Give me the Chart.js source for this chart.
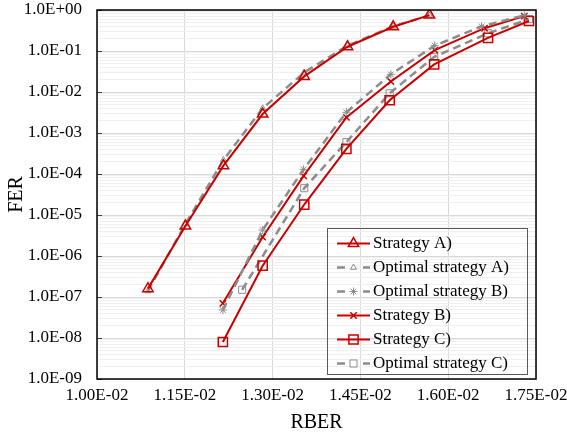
<!DOCTYPE html>
<html>
<head>
<meta charset="utf-8">
<script src="https://cdn.jsdelivr.net/npm/chart.js@4.4.1/dist/chart.umd.min.js"></script>
<style>
  html, body { margin: 0; padding: 0; background: #ffffff; }
  #wrap { width: 567px; height: 436px; position: relative; }
</style>
</head>
<body>
<div id="wrap"><canvas id="c" width="567" height="436"></canvas></div>
<script>
// ---------------- data ----------------
const rberStrategyA = [0.01087, 0.01151, 0.01216, 0.01283, 0.01354, 0.01428, 0.01506, 0.01568];
const ferStrategyA  = [1.6e-7, 5.4e-6, 1.6e-4, 2.9e-3, 2.4e-2, 0.127, 0.39, 0.75];

const rberOptimalA  = [0.01087, 0.01151, 0.01216, 0.01283, 0.01354, 0.01428, 0.01506, 0.01568];
const ferOptimalA   = [1.4e-7, 6.0e-6, 2.2e-4, 4.0e-3, 3.0e-2, 0.135, 0.40, 0.74];

const rberOptimalB  = [0.01215, 0.01283, 0.01353, 0.01426, 0.01502, 0.01577, 0.01657, 0.01730];
const ferOptimalB   = [4.8e-8, 4.3e-6, 1.3e-4, 3.2e-3, 2.7e-2, 0.135, 0.40, 0.74];

const rberStrategyB = [0.01215, 0.01283, 0.01353, 0.01426, 0.01502, 0.01577, 0.01662, 0.01730];
const ferStrategyB  = [7.0e-8, 2.9e-6, 9.0e-5, 2.4e-3, 1.8e-2, 0.105, 0.36, 0.71];

const rberStrategyC = [0.01215, 0.01283, 0.01354, 0.01426, 0.01500, 0.01576, 0.01668, 0.01738];
const ferStrategyC  = [8.0e-9, 5.8e-7, 1.8e-5, 4.1e-4, 6.3e-3, 4.7e-2, 0.21, 0.54];

const rberOptimalC  = [0.01248, 0.01354, 0.01426, 0.01500, 0.01576, 0.01668, 0.01738];
const ferOptimalC   = [1.5e-7, 4.5e-5, 6.0e-4, 9.3e-3, 7.2e-2, 0.27, 0.60];

const seriesNames = ['Strategy A)', 'Optimal strategy A)', 'Optimal strategy B)', 'Strategy B)', 'Strategy C)', 'Optimal strategy C)'];

const xTickValues = [0.0100, 0.0115, 0.0130, 0.0145, 0.0160, 0.0175];
const xTickLabels = ['1.00E-02', '1.15E-02', '1.30E-02', '1.45E-02', '1.60E-02', '1.75E-02'];
const yTickValues = [1e-9, 1e-8, 1e-7, 1e-6, 1e-5, 1e-4, 1e-3, 1e-2, 1e-1, 1];
const yTickLabels = ['1.0E-09', '1.0E-08', '1.0E-07', '1.0E-06', '1.0E-05', '1.0E-04', '1.0E-03', '1.0E-02', '1.0E-01', '1.0E+00'];

const xTitle = 'RBER';
const yTitle = 'FER';

// ---------------- styles ----------------
const RED = '#c80000';
const GRAY = '#8c8c8c';
const FONT = "'Liberation Serif', 'Times New Roman', serif";
const NONE = 'rgba(0,0,0,0)';

function series(label, xs, ys, style) {
  return Object.assign({
    label: label,
    data: xs.map((x, i) => ({ x: x, y: ys[i] })),
    fill: false,
    tension: 0,
    pointBackgroundColor: NONE,
    pointHoverRadius: 0
  }, style);
}

const solidRed = { borderColor: RED, borderWidth: 2, borderDash: [], pointBorderColor: RED };
const dashedGray = { borderColor: GRAY, borderWidth: 2.5, borderDash: [8, 5], pointBorderColor: GRAY, legendDash: [8, 18] };

const datasets = [
  series(seriesNames[0], rberStrategyA, ferStrategyA, Object.assign({}, solidRed, { pointStyle: 'triangle', pointRadius: 6, pointBorderWidth: 1.5 })),
  series(seriesNames[1], rberOptimalA, ferOptimalA, Object.assign({}, dashedGray, { pointStyle: 'triangle', pointRadius: 3.5, pointBorderWidth: 1 })),
  series(seriesNames[2], rberOptimalB, ferOptimalB, Object.assign({}, dashedGray, { pointStyle: 'star', pointRadius: 4, pointBorderWidth: 1 })),
  series(seriesNames[3], rberStrategyB, ferStrategyB, Object.assign({}, solidRed, { pointStyle: 'crossRot', pointRadius: 4.5, pointBorderWidth: 1.5 })),
  series(seriesNames[4], rberStrategyC, ferStrategyC, Object.assign({}, solidRed, { pointStyle: 'rect', pointRadius: 6.5, pointBorderWidth: 1.5 })),
  series(seriesNames[5], rberOptimalC, ferOptimalC, Object.assign({}, dashedGray, { pointStyle: 'rect', pointRadius: 5, pointBorderWidth: 1 }))
];

function matchIndex(values, v, isLog) {
  for (let i = 0; i < values.length; i++) {
    if (isLog) {
      if (Math.abs(Math.log10(values[i]) - Math.log10(v)) < 1e-6) return i;
    } else if (Math.abs(values[i] - v) < 1e-9) return i;
  }
  return -1;
}

function drawMarkerFallback(ctx, style, r, x, y) {
  ctx.beginPath();
  if (style === 'triangle') {
    for (let k = 0; k < 3; k++) {
      const a = k * 2 * Math.PI / 3;
      const px = x + Math.sin(a) * r, py = y - Math.cos(a) * r;
      if (k === 0) ctx.moveTo(px, py); else ctx.lineTo(px, py);
    }
    ctx.closePath();
  } else if (style === 'rect') {
    const s = r * Math.SQRT1_2;
    ctx.rect(x - s, y - s, 2 * s, 2 * s);
  } else {
    const d = r * Math.SQRT1_2;
    ctx.moveTo(x - d, y - d); ctx.lineTo(x + d, y + d);
    ctx.moveTo(x - d, y + d); ctx.lineTo(x + d, y - d);
    if (style === 'star') {
      ctx.moveTo(x - r, y); ctx.lineTo(x + r, y);
      ctx.moveTo(x, y - r); ctx.lineTo(x, y + r);
    }
  }
  ctx.stroke();
}

// frame around plot area + boxed legend inside the plot
const frameAndLegend = {
  id: 'frameAndLegend',
  afterDraw(chart) {
    const ctx = chart.ctx;
    const a = chart.chartArea;
    ctx.save();
    ctx.strokeStyle = '#000000';
    ctx.lineWidth = 1.5;
    ctx.strokeRect(a.left, a.top, a.right - a.left, a.bottom - a.top);

    const bw = 200, bh = 146;
    const bx = Math.round(a.right - 9 - bw);
    const by = Math.round(a.bottom - 5 - bh);
    ctx.strokeStyle = '#595959';
    ctx.lineWidth = 1;
    ctx.strokeRect(bx + 0.5, by + 0.5, bw, bh);

    chart.data.datasets.forEach((ds, i) => {
      const y = by + 15.5 + i * 24;
      const x0 = bx + 10;
      ctx.save();
      ctx.strokeStyle = ds.borderColor;
      ctx.lineWidth = ds.borderWidth;
      ctx.setLineDash(ds.legendDash || []);
      ctx.beginPath();
      ctx.moveTo(x0, y);
      ctx.lineTo(x0 + 33, y);
      ctx.stroke();
      ctx.setLineDash([]);
      ctx.strokeStyle = ds.pointBorderColor;
      ctx.fillStyle = NONE;
      ctx.lineWidth = ds.pointBorderWidth;
      if (Chart.helpers && Chart.helpers.drawPoint) {
        Chart.helpers.drawPoint(ctx, { pointStyle: ds.pointStyle, radius: ds.pointRadius, borderWidth: ds.pointBorderWidth, rotation: 0 }, x0 + 16.5, y);
      } else {
        drawMarkerFallback(ctx, ds.pointStyle, ds.pointRadius, x0 + 16.5, y);
      }
      ctx.fillStyle = '#000000';
      ctx.font = '17px ' + FONT;
      ctx.textBaseline = 'middle';
      ctx.textAlign = 'left';
      ctx.fillText(ds.label, x0 + 36, y + 0.5);
      ctx.restore();
    });
    ctx.restore();
  }
};

new Chart(document.getElementById('c'), {
  type: 'line',
  data: { datasets: datasets },
  plugins: [frameAndLegend],
  options: {
    responsive: false,
    animation: false,
    devicePixelRatio: 1,
    layout: { padding: { left: 0, right: 31, top: 10, bottom: 0 } },
    plugins: {
      legend: { display: false },
      tooltip: { enabled: false }
    },
    scales: {
      x: {
        type: 'linear',
        min: xTickValues[0],
        max: xTickValues[xTickValues.length - 1],
        afterBuildTicks(scale) {
          scale.ticks = xTickValues.map(v => ({ value: v }));
        },
        afterFit(scale) {
          scale.height = 57;
          scale.paddingLeft = 0;
          scale.paddingRight = 0;
        },
        border: { display: false },
        grid: { color: '#d9d9d9', lineWidth: 1, drawTicks: false },
        ticks: {
          autoSkip: false,
          maxRotation: 0,
          padding: 6,
          color: '#000000',
          font: { family: FONT, size: 17 },
          callback(value) {
            const i = matchIndex(xTickValues, value, false);
            return i >= 0 ? xTickLabels[i] : '';
          }
        },
        title: {
          display: true,
          text: xTitle,
          color: '#000000',
          font: { family: FONT, size: 20 },
          padding: { top: 0, bottom: 1 }
        }
      },
      y: {
        type: 'logarithmic',
        min: yTickValues[0],
        max: yTickValues[yTickValues.length - 1],
        afterBuildTicks(scale) {
          const t = [];
          yTickValues.forEach((v, i) => {
            t.push({ value: v, major: true });
            if (i < yTickValues.length - 1) {
              for (let m = 2; m <= 9; m++) t.push({ value: v * m, major: false });
            }
          });
          scale.ticks = t;
        },
        afterFit(scale) {
          scale.width = 97;
          scale.paddingTop = 0;
          scale.paddingBottom = 0;
        },
        border: { display: false },
        grid: {
          color: (c) => (c.tick && c.tick.major) ? '#d9d9d9' : '#f0f0f0',
          lineWidth: 1,
          drawTicks: true,
          tickLength: -5,
          tickColor: (c) => (c.tick && c.tick.major) ? '#404040' : NONE
        },
        ticks: {
          autoSkip: false,
          padding: 20,
          color: '#000000',
          font: { family: FONT, size: 17 },
          callback(value) {
            const i = matchIndex(yTickValues, value, true);
            return i >= 0 ? yTickLabels[i] : '';
          }
        },
        title: {
          display: true,
          text: yTitle,
          color: '#000000',
          font: { family: FONT, size: 20 },
          padding: { top: 5, bottom: 0 }
        }
      }
    }
  }
});
</script>
</body>
</html>
